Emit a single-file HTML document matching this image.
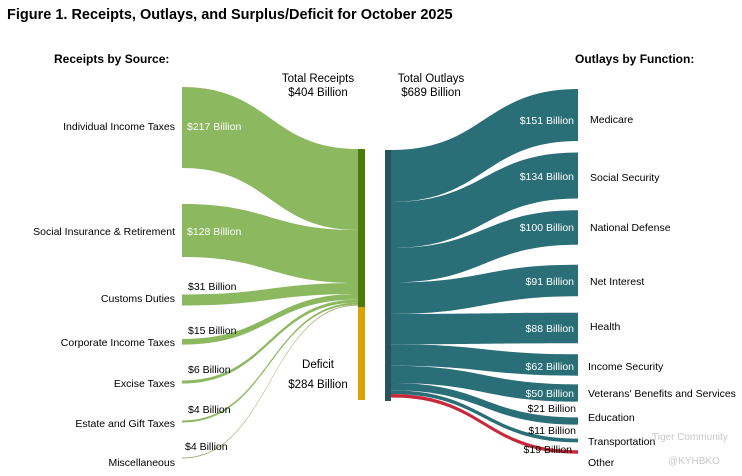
<!DOCTYPE html><html><head><style>body{margin:0;background:#fff}svg{display:block;font-family:"Liberation Sans",Arial,sans-serif}</style></head><body>
<svg id="s" width="742" height="476" viewBox="0 0 742 476">
<text x="7" y="19" font-size="14.5" font-weight="bold">Figure 1. Receipts, Outlays, and Surplus/Deficit for October 2025</text>
<text x="54" y="63" font-size="12" font-weight="bold">Receipts by Source:</text>
<text x="575" y="63" font-size="12" font-weight="bold">Outlays by Function:</text>
<g font-size="11.5" text-anchor="middle"><text x="318" y="82">Total Receipts</text><text x="318" y="96">$404 Billion</text>
<text x="431" y="82">Total Outlays</text><text x="431" y="96">$689 Billion</text>
<text x="318" y="368">Deficit</text><text x="318" y="388">$284 Billion</text></g>
<g id="rib"></g>
<rect x="358" y="149" width="7" height="158" fill="#4e7a0e"/>
<rect x="358" y="307" width="7" height="93" fill="#d9a300"/>
<rect x="385" y="150" width="6" height="251" fill="#25555a"/>
<g font-size="10.5" fill="#fff"><text x="187" y="130">$217 Billion</text><text x="187" y="235">$128 Billion</text></g>
<g font-size="10.5"><text x="188" y="290">$31 Billion</text><text x="188" y="334">$15 Billion</text><text x="188" y="373">$6 Billion</text><text x="188" y="413">$4 Billion</text><text x="185" y="450">$4 Billion</text></g>
<g font-size="10.5" text-anchor="end"><text x="175" y="130">Individual Income Taxes</text><text x="175" y="235">Social Insurance &amp; Retirement</text><text x="175" y="302">Customs Duties</text><text x="175" y="346">Corporate Income Taxes</text><text x="175" y="387">Excise Taxes</text><text x="175" y="427">Estate and Gift Taxes</text><text x="175" y="466">Miscellaneous</text></g>
<g font-size="10.5" text-anchor="end" fill="#fff"><text x="574" y="124">$151 Billion</text><text x="574" y="180">$134 Billion</text><text x="574" y="231">$100 Billion</text><text x="574" y="285">$91 Billion</text><text x="574" y="332">$88 Billion</text><text x="574" y="370">$62 Billion</text><text x="574" y="397">$50 Billion</text></g>
<g font-size="10.5" text-anchor="end"><text x="576" y="412">$21 Billion</text><text x="576" y="434">$11 Billion</text><text x="572" y="453">$19 Billion</text></g>
<g font-size="10.5"><text x="590" y="123">Medicare</text><text x="590" y="181">Social Security</text><text x="590" y="231">National Defense</text><text x="590" y="285">Net Interest</text><text x="590" y="330">Health</text><text x="588" y="370">Income Security</text><text x="588" y="397">Veterans' Benefits and Services</text><text x="588" y="421">Education</text><text x="588" y="445">Transportation</text><text x="588" y="466">Other</text></g>
<g font-size="10" fill="#c8c8c8"><text x="652" y="440">Tiger Community</text><text x="668" y="464">@KYHBKO</text></g>
</svg>
<script>
var g=document.getElementById('rib'),ns='http://www.w3.org/2000/svg';
function rib(x0,y0,x1,y1,t,c){var cx=(x0+x1)/2,p=document.createElementNS(ns,'path');
p.setAttribute('d','M'+x0+' '+y0+'C'+cx+' '+y0+' '+cx+' '+y1+' '+x1+' '+y1+'L'+x1+' '+(y1+t)+'C'+cx+' '+(y1+t)+' '+cx+' '+(y0+t)+' '+x0+' '+(y0+t)+'Z');
p.setAttribute('fill',c);g.appendChild(p);}
var L=[[87,81],[204,53],[294.5,11],[339,5.6],[380.5,3],[420.5,2],[457.5,1]],d=149;
L.forEach(function(a,i){rib(182,a[0],358,d,a[1],i==6?'#a8b07a':'#8cb860');d+=a[1];});
var R=[[115,52],[175.5,46],[227.5,34.5],[280.5,31.4],[328,30.4],[365,21.4],[393,17.3],[421,7.2],[440.5,3.8],[452,3.5]];
var s=150;R.forEach(function(a,i){rib(391,s,578,a[0]-a[1]/2,a[1],i==9?'#c8283c':'#2a6e78');s+=a[1];});
</script>
</body></html>
